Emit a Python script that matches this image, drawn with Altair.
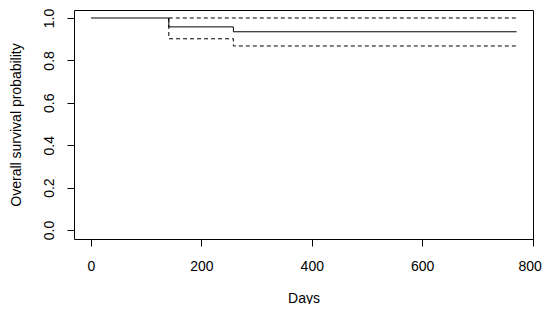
import altair as alt
import pandas as pd

# Kaplan-Meier estimate
times = [0, 141, 258, 771]
surv = [1.0, 0.958, 0.935, 0.935]
ci_times = [141, 141, 258, 771]
upper = [1.0, 1.0, 1.0, 1.0]
lower = [1.0, 0.902, 0.868, 0.868]

x_ticks = [0, 200, 400, 600, 800]
y_ticks = [0.0, 0.2, 0.4, 0.6, 0.8, 1.0]

df_s = pd.DataFrame({"t": times, "s": surv})
df_ci = pd.concat([
    pd.DataFrame({"t": ci_times, "s": upper, "band": "upper", "o": range(4)}),
    pd.DataFrame({"t": ci_times, "s": lower, "band": "lower", "o": range(4)}),
])

FONT = "Liberation Sans"

xs = alt.Scale(domain=[-30.8, 800.8], nice=False, zero=False)
ys = alt.Scale(domain=[-0.0425, 1.0377], nice=False, zero=False)

xax = alt.Axis(values=x_ticks, title="Days", grid=False, domain=False,
               tickColor="black", tickSize=7, tickWidth=1, labelFlush=False,
               labelOffset={"condition": {"test": "datum.value == 800", "value": -3},
                            "value": 0},
               labelColor="black", labelFontSize=14, labelFont=FONT,
               labelPadding=13, titleFont=FONT, titleFontSize=14,
               titleFontWeight="normal", titleColor="black", titlePadding=18)
yax = alt.Axis(values=y_ticks, format=".1f", title="Overall survival probability",
               grid=False, domain=False, tickColor="black", tickSize=7, tickWidth=1,
               labelFlush=False,
               labelColor="black", labelFontSize=14, labelFont=FONT,
               labelAngle=-90, labelAlign="center", labelBaseline="bottom",
               labelPadding=11, titleFont=FONT, titleFontSize=14,
               titleFontWeight="normal", titleColor="black", titlePadding=19)

ci = alt.Chart(df_ci).mark_line(interpolate="step-after", color="black",
                                strokeWidth=1, strokeDash=[4, 3]).encode(
    x=alt.X("t:Q", scale=xs, axis=xax),
    y=alt.Y("s:Q", scale=ys, axis=yax),
    detail="band:N",
    order="o:Q",
)
km = alt.Chart(df_s).mark_line(interpolate="step-after", color="black",
                               strokeWidth=1).encode(
    x=alt.X("t:Q", scale=xs),
    y=alt.Y("s:Q", scale=ys),
)

chart = (ci + km).properties(
    width=459, height=229,
    autosize=alt.AutoSizeParams(type="none"),
    padding={"left": 66, "top": 2, "right": 9, "bottom": 65},
    background="white",
).configure_view(stroke="black", strokeWidth=1)

chart.save("out.html", embed_options={"renderer": "svg", "actions": False})
